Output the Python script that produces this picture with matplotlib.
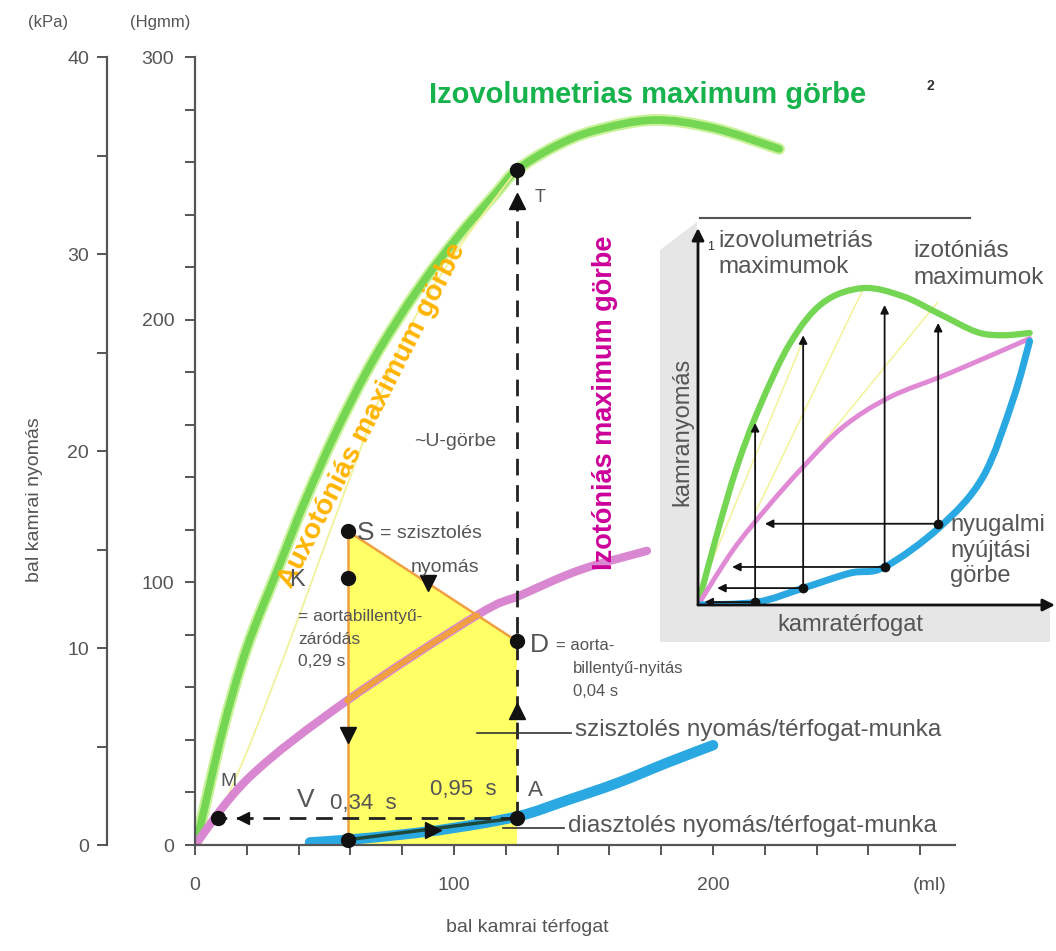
import numpy as np
import matplotlib
matplotlib.use('Agg')
import matplotlib.pyplot as plt
from matplotlib.ticker import MultipleLocator
from matplotlib.patches import Polygon, PathPatch
from matplotlib.path import Path

# ---- main diagram: bal kamrai terfogat (ml) vs nyomas (Hgmm) ----
green_ml = [0, 2, 10.8, 20, 32.8, 42.5, 54.8, 69, 85.7, 101, 116, 124.3, 139, 154.4, 177, 200, 225.5]
green_mmHg = [0, 7, 44, 75, 107, 131, 158, 185, 211, 231, 248, 257, 266, 272, 276, 273, 265]

u_ml = [9, 19, 29, 40.5, 55, 79.5, 101, 124.3]
u_mmHg = [10.3, 33, 58, 88, 127, 190, 226, 257]

magenta_ml = [0, 21.2, 58.7, 108.9, 125.5, 148.6, 174.5]
magenta_mmHg = [0, 26, 55, 87.5, 95, 104.7, 112]

blue_ml = [44.4, 59, 80, 100, 125, 143.6, 163, 182, 200]
blue_mmHg = [1, 2, 4, 6.5, 11, 17, 23.6, 31.2, 38]

# work loop corners
work_ml = [59, 124.3, 124.3, 59]
work_mmHg = [119.5, 77.6, 0, 0]

# labelled points M, A, bottom, S, K, D, T
pt_ml = [9, 124.3, 59, 59, 59, 124.3, 124.3]
pt_mmHg = [10.3, 10.3, 2, 119.5, 101.6, 77.6, 257]

# direction triangles along the loop
tri_ml = [59, 90, 92, 124.3, 124.3, 18.5]
tri_mmHg = [42, 99.6, 5.6, 51, 245, 10.3]
tri_mark = ['v', 'v', '>', '^', '^', '<']

# ---- inset (arbitrary units) ----
ins_green_x = [0, 5.9, 12, 19, 28.4, 38.5, 50.8, 63.1, 74.5, 85.9, 93.9, 102.2]
ins_green_y = [0, 22, 42.5, 61, 80.6, 93, 97.5, 95, 89.5, 84, 83, 83.7]
ins_mag_x = [0, 10.8, 21.3, 32.4, 44.7, 59.2, 77.7, 102.2]
ins_mag_y = [0, 16.9, 30, 42.5, 54.8, 64, 71.4, 82]
ins_blue_x = [0, 18.2, 32.4, 46.8, 57.5, 74.5, 87.8, 97, 102.2]
ins_blue_y = [0, 0.9, 5.2, 9.8, 11.7, 24, 39.4, 63, 81.2]
rest_x = [17.6, 32.4, 57.5, 74]
rest_y = [0.9, 5.2, 11.7, 25]
top_y = [56, 83, 92.3, 86.8]
left_end_x = [2, 5.9, 10.5, 20.6]
chord_x0 = [1.5, 17.6, 32.4]
chord_y0 = [6.8, 28.3, 42.5]
chord_x1 = [32.4, 50.8, 73.7]
chord_y1 = [81.5, 97, 93]

grey = '#555555'
W, H = 1056, 951
plt.rcParams['font.family'] = ['Liberation Sans', 'DejaVu Sans']


def box(l, t, r, b):
    return [l / W, 1 - b / H, (r - l) / W, (b - t) / H]


def ftext(x, y, s, **kw):
    kw.setdefault('color', grey)
    fig.text(x / W, 1 - y / H, s, **kw)


def smooth(xs, ys, first=0, last=None):
    # catmull-rom through the read points, drawn as bezier segments
    P = np.column_stack([xs, ys]).astype(float)
    n = len(P)
    last = n - 1 if last is None else last
    verts, codes = [P[first]], [Path.MOVETO]
    for i in range(first, last):
        p0 = P[i - 1] if i > 0 else P[i]
        p1, p2 = P[i], P[i + 1]
        p3 = P[i + 2] if i + 2 < n else P[i + 1]
        verts += [p1 + (p2 - p0) / 6, p2 - (p3 - p1) / 6, p2]
        codes += [Path.CURVE4] * 3
    return Path(verts, codes)


def curve(a, xs, ys, color, lw, z=2, **kw):
    a.add_patch(PathPatch(smooth(xs, ys, **kw), facecolor='none', edgecolor=color,
                          lw=lw, capstyle='round', joinstyle='round', zorder=z))


fig = plt.figure(figsize=(10.56, 9.51), dpi=100)

ax = fig.add_axes(box(195, 57, 955, 845))
ax.set_facecolor('none')
ax.set_xlim(0, 293.4)
ax.set_ylim(0, 300)
for s in ['top', 'right']:
    ax.spines[s].set_visible(False)
for s in ['left', 'bottom']:
    ax.spines[s].set_color(grey)
    ax.spines[s].set_linewidth(1.6)
ax.set_xticks([0, 100, 200])
ax.xaxis.set_minor_locator(MultipleLocator(20))
ax.set_yticks([0, 100, 200, 300])
ax.yaxis.set_minor_locator(MultipleLocator(20))
ax.tick_params(which='both', direction='out', length=7, width=1.4, color=grey,
               labelcolor=grey, labelsize=14)
ax.tick_params(axis='x', pad=16)
ax.tick_params(axis='y', pad=8)

sec = ax.secondary_yaxis(-0.1158, functions=(lambda v: v / 7.5, lambda v: v * 7.5))
sec.set_yticks([0, 10, 20, 30, 40])
sec.yaxis.set_minor_locator(MultipleLocator(5))
sec.spines['left'].set_color(grey)
sec.spines['left'].set_linewidth(1.6)
sec.tick_params(which='both', direction='out', length=7, width=1.4, color=grey,
                labelcolor=grey, labelsize=14, pad=6)

# yellow work area
ax.add_patch(Polygon(np.column_stack([work_ml, work_mmHg]), closed=True,
                     facecolor='#ffff66', edgecolor='none', zorder=1))
ax.plot(work_ml[:2], work_mmHg[:2], color='#f0a040', lw=1.8, zorder=3)
ax.plot([work_ml[0], work_ml[3]], [work_mmHg[0], pt_mmHg[2]], color='#f0a040', lw=1.8, zorder=3)

# curves
curve(ax, green_ml, green_mmHg, '#c9f29a', 8.5)
curve(ax, green_ml, green_mmHg, '#74d653', 5.5)
curve(ax, u_ml, u_mmHg, '#f1f19a', 1.3)
curve(ax, magenta_ml, magenta_mmHg, '#d987d0', 6)
curve(ax, magenta_ml, magenta_mmHg, '#f0a040', 4, z=3, first=2, last=3)
curve(ax, blue_ml, blue_mmHg, '#2aa8e2', 7.5)
ax.plot([pt_ml[2], pt_ml[1]], [pt_mmHg[2], pt_mmHg[1]], color='#1d4a3c', lw=2.5, zorder=4)

# dashed paths
ax.plot([pt_ml[1], pt_ml[0]], [pt_mmHg[1], pt_mmHg[0]], color='#222222', lw=2,
        dashes=(6, 3.5), zorder=4)
ax.plot([pt_ml[1], pt_ml[6]], [pt_mmHg[1], pt_mmHg[6]], color='#222222', lw=2,
        dashes=(6, 3.5), zorder=4)

for x, y, m in zip(tri_ml, tri_mmHg, tri_mark):
    ax.plot(x, y, marker=m, color='#111111', ms=12 if m != '<' else 9, zorder=5,
            clip_on=False)
ax.plot(pt_ml, pt_mmHg, 'o', color='#111111', ms=10, zorder=6, clip_on=False)

# pointer lines to the work labels
ax.plot([109, 145], [42.6, 42.6], color='#333333', lw=1.2, zorder=5)
ax.plot([119, 142.5], [6.5, 6.5], color='#333333', lw=1.2, zorder=5)

# ---- texts ----
ftext(48, 22, '(kPa)', ha='center', va='center', fontsize=12)
ftext(160, 22, '(Hgmm)', ha='center', va='center', fontsize=12)
ftext(930, 885, '(ml)', ha='center', va='center', fontsize=14)
ftext(527, 928, 'bal kamrai térfogat', ha='center', va='center', fontsize=14)
ftext(35, 500, 'bal kamrai nyomás', ha='center', va='center', fontsize=14, rotation=90)

ftext(648, 95, 'Izovolumetrias maximum görbe', ha='center', va='center', fontsize=21,
      fontweight='bold', color='#16b24b')
ftext(930, 86, '2', ha='center', va='center', fontsize=10, fontweight='bold', color='#333333')
ftext(372, 415, 'Auxotóniás maximum görbe', ha='center', va='center', fontsize=20.5,
      fontweight='bold', color='#ffb400', rotation=63, rotation_mode='anchor')
ftext(605, 403, 'Izotóniás maximum görbe', ha='center', va='center', fontsize=19.5,
      fontweight='bold', color='#cc0099', rotation=90)

ftext(540, 197, 'T', ha='center', va='center', fontsize=13)
ftext(455, 441, '~U-görbe', ha='center', va='center', fontsize=14)
ftext(357, 533, 'S', ha='left', va='center', fontsize=19)
ftext(380, 533, '= szisztolés', ha='left', va='center', fontsize=14)
ftext(445, 567, 'nyomás', ha='center', va='center', fontsize=14)
ftext(297, 580, 'K', ha='center', va='center', fontsize=17)
ftext(298, 616, '= aortabillentyű-', ha='left', va='center', fontsize=12.5)
ftext(298, 639, 'záródás', ha='left', va='center', fontsize=12.5)
ftext(298, 662, '0,29 s', ha='left', va='center', fontsize=12.5)
ftext(530, 645, 'D', ha='left', va='center', fontsize=19)
ftext(556, 645, '= aorta-', ha='left', va='center', fontsize=12)
ftext(573, 669, 'billentyű-nyitás', ha='left', va='center', fontsize=12)
ftext(573, 691, '0,04 s', ha='left', va='center', fontsize=12)
ftext(228, 782, 'M', ha='center', va='center', fontsize=14)
ftext(306, 800, 'V', ha='center', va='center', fontsize=19)
ftext(330, 804, '0,34  s', ha='left', va='center', fontsize=16)
ftext(430, 790, '0,95  s', ha='left', va='center', fontsize=16)
ftext(535, 790, 'A', ha='center', va='center', fontsize=16)
ftext(575, 730, 'szisztolés nyomás/térfogat-munka', ha='left', va='center', fontsize=17.5)
ftext(568, 826, 'diasztolés nyomás/térfogat-munka', ha='left', va='center', fontsize=17.5)

# ---- inset ----
fig.add_artist(Polygon([(660 / W, 1 - 250 / H), (697 / W, 1 - 222 / H), (697 / W, 1 - 605 / H),
                        (1050 / W, 1 - 605 / H), (1050 / W, 1 - 642 / H), (660 / W, 1 - 642 / H)],
                       closed=True, transform=fig.transFigure, facecolor='#e6e6e6',
                       edgecolor='none', zorder=0))
fig.add_artist(plt.Line2D([700 / W, 970 / W], [1 - 218 / H, 1 - 218 / H],
                          transform=fig.transFigure, color='#555555', lw=1.5))

ins = fig.add_axes(box(698, 228, 1055, 605))
ins.set_xlim(0, 110)
ins.set_ylim(0, 116)
ins.axis('off')
for x0, y0, x1, y1 in zip(chord_x0, chord_y0, chord_x1, chord_y1):
    ins.plot([x0, x1], [y0, y1], color='#f4f4a0', lw=1.2)
curve(ins, ins_green_x, ins_green_y, '#74d653', 4.5)
curve(ins, ins_mag_x, ins_mag_y, '#e08ad6', 3.5)
curve(ins, ins_blue_x, ins_blue_y, '#2aa8e2', 5)
arrow = dict(arrowstyle='-|>', color='#111111', lw=1.3, mutation_scale=12, shrinkA=0, shrinkB=0)
for x, y0, y1, xl in zip(rest_x, rest_y, top_y, left_end_x):
    ins.annotate('', xy=(x, y1), xytext=(x, y0), arrowprops=arrow)
    ins.annotate('', xy=(xl, y0), xytext=(x, y0), arrowprops=arrow)
ins.plot(rest_x, rest_y, 'o', color='#111111', ms=6)
ins.annotate('', xy=(110, 0), xytext=(0, 0), arrowprops=dict(arrow, lw=2, mutation_scale=18),
             annotation_clip=False)
ins.annotate('', xy=(0, 116), xytext=(0, 0), arrowprops=dict(arrow, lw=2, mutation_scale=18),
             annotation_clip=False)

ftext(711, 247, '1', ha='center', va='center', fontsize=9, color='#333333')
ftext(718, 241, 'izovolumetriás', ha='left', va='center', fontsize=17.5)
ftext(718, 267, 'maximumok', ha='left', va='center', fontsize=17.5)
ftext(913, 251, 'izotóniás', ha='left', va='center', fontsize=17.5)
ftext(913, 278, 'maximumok', ha='left', va='center', fontsize=17.5)
ftext(682, 432, 'kamranyomás', ha='center', va='center', fontsize=17, rotation=90)
ftext(850, 625, 'kamratérfogat', ha='center', va='center', fontsize=17)
ftext(950, 525, 'nyugalmi', ha='left', va='center', fontsize=17)
ftext(950, 551, 'nyújtási', ha='left', va='center', fontsize=17)
ftext(950, 576, 'görbe', ha='left', va='center', fontsize=17)

fig.savefig('out.png', dpi=100, facecolor='white')
